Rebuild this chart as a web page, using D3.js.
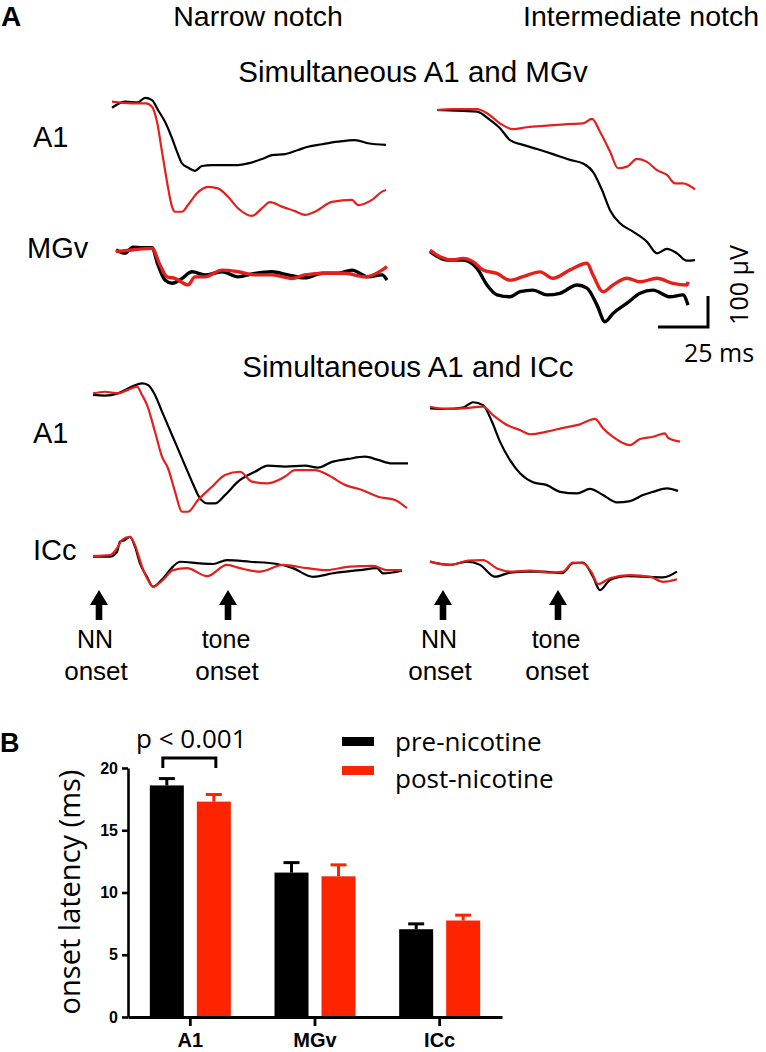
<!DOCTYPE html>
<html><head><meta charset="utf-8">
<script src="https://cdn.jsdelivr.net/npm/d3@7"></script>
<style>
html,body{margin:0;padding:0;background:#fff;}
svg{display:block;}
.hv{font-family:"Liberation Sans",Arial,sans-serif;}
.os{font-family:"Open Sans",sans-serif;}
</style></head>
<body>
<script>
// ---------- Panel A data: [time (ms), amplitude (µV)] ----------
// Narrow notch, simultaneous A1 & MGv
const nA1m_pre = [[0,-18],[3,-6],[6.5,1],[13,-1],[16.5,13],[20,6],[23,-25],[26.5,-62],[30,-113],[32.5,-155],[35,-192],[38,-205],[41.5,-215],[45,-200],[50,-197],[56.5,-197],[63,-197],[68,-192],[75,-178],[80,-166],[86.5,-163],[93,-150],[98,-140],[105,-132],[113,-124],[121.5,-119],[128,-129],[137,-134]];
const nA1m_post = [[0,1],[10,-4],[17,-4],[20,-15],[22.5,-62],[25,-155],[27.5,-249],[30,-327],[31.5,-343],[35,-343],[38,-322],[42.5,-285],[48,-265],[53,-270],[58,-296],[63,-332],[70,-356],[75,-332],[79,-313],[85,-327],[91.5,-341],[96.5,-353],[101.5,-343],[110,-312],[120,-306],[123,-322],[130,-306],[135,-280],[137,-275]];
const nMGv_pre = [[2,-3],[6.5,-13],[10.5,6],[15,4],[20,4],[23,-50],[26.5,-97],[30,-107],[35,-92],[40,-71],[46.5,-81],[55,-71],[63,-87],[71.5,-76],[80,-71],[88,-81],[96.5,-90],[105,-76],[113,-76],[120,-66],[128,-87],[135,-81],[137.5,-97]];
const nMGv_post = [[2,-8],[10,-3],[20,2],[24,-50],[27.5,-87],[31.5,-92],[38,-112],[41.5,-87],[46.5,-87],[55,-66],[63,-71],[71.5,-81],[80,-81],[90,-92],[96.5,-81],[106.5,-76],[116.5,-76],[126.5,-87],[135,-66],[137.5,-55]];
// Intermediate notch, simultaneous A1 & MGv
const iA1m_pre = [[3.5,0],[16.5,-3],[23.5,-5],[30,-31],[35,-57],[40,-94],[46.5,-109],[53.5,-122],[61.5,-138],[70,-156],[76.5,-167],[81.5,-193],[86,-250],[90,-313],[95,-354],[101.5,-380],[108.5,-412],[113.5,-448],[118.5,-434],[123.5,-448],[128.5,-471],[132.5,-469]];
const iA1m_post = [[3.5,0],[11.5,3],[23.5,3],[28.5,-10],[35,-42],[41.5,-60],[48.5,-54],[58.5,-49],[68.5,-44],[76.5,-42],[81,-28],[85,-68],[90,-130],[94,-182],[98.5,-177],[103.5,-153],[108.5,-162],[113.5,-188],[118.5,-203],[122.5,-229],[126.5,-229],[132.5,-248]];
const iMGv_pre = [[0,1],[8.5,-25],[16.5,-25],[23.5,-51],[28.5,-103],[33.5,-134],[40,-140],[45,-124],[51.5,-119],[58.5,-134],[65,-129],[73.5,-103],[78.5,-113],[83.5,-166],[87.5,-218],[91.5,-192],[98.5,-160],[105,-129],[111.5,-119],[120,-140],[126.5,-134],[129,-166]];
const iMGv_post = [[0,6],[5,-15],[11.5,-25],[16.5,-20],[21.5,-30],[26.5,-56],[33.5,-67],[40,-88],[46.5,-77],[55,-62],[61.5,-82],[70,-56],[78.5,-35],[81.5,-72],[86.5,-124],[91.5,-103],[98.5,-82],[105,-93],[113.5,-82],[121.5,-98],[128.5,-103],[129,-93]];
// Narrow notch, simultaneous A1 & ICc
const nA1c_pre = [[0,-3],[6,-5],[12.5,2],[19.5,23],[24.5,33],[27.5,28],[31,-3],[34.5,-55],[39.5,-128],[44.5,-201],[49.5,-274],[53.5,-326],[57.5,-342],[61,-342],[66,-316],[72.5,-274],[81,-243],[87.5,-224],[96,-227],[106,-224],[112.5,-230],[119.5,-212],[127.5,-203],[136,-196],[142.5,-206],[149.5,-217],[157.5,-217]];
const nA1c_post = [[0,2],[6,7],[12.5,2],[17.5,13],[22,23],[24.5,-3],[27,-34],[31,-118],[34.5,-196],[37.5,-232],[41,-305],[44.5,-368],[47.5,-368],[52.5,-331],[59.5,-290],[66,-253],[73.5,-243],[79.5,-274],[87.5,-279],[96,-258],[101,-238],[111,-238],[117.5,-253],[126,-284],[134.5,-300],[142.5,-321],[151,-331],[157,-357]];
const nICc_pre = [[0,-2],[8.5,-2],[12,13],[13.5,45],[16,50],[18.5,60],[21,29],[23.5,-23],[27,-65],[30,-96],[35,-70],[40,-33],[43.5,-18],[53.5,-23],[60,-25],[67,-13],[78.5,-18],[92,-25],[100,-38],[110,-65],[120,-54],[133.5,-44],[142,-38],[145,-54],[154.5,-46]];
const nICc_post = [[0,0],[8.5,3],[12.5,29],[14.5,50],[18.5,60],[21,34],[24.5,-33],[27.5,-75],[30,-96],[35,-75],[40,-44],[47,-38],[57,-63],[67,-28],[73.5,-38],[83.5,-49],[95,-28],[107,-38],[117,-44],[128.5,-33],[140,-31],[147,-44],[154.5,-44]];
// Intermediate notch, simultaneous A1 & ICc
const iA1c_pre = [[0,-1],[8.5,-3],[16.5,1],[21.5,18],[26.5,9],[31,-43],[35,-105],[40,-163],[45,-204],[51.5,-232],[58.5,-241],[65,-262],[73.5,-267],[80,-253],[86.5,-272],[93.5,-295],[100,-291],[106.5,-272],[111.5,-262],[118.5,-251],[124,-259]];
const iA1c_post = [[0,4],[8.5,-3],[16.5,-1],[26.5,4],[31.5,-22],[38.5,-53],[45,-69],[50,-82],[58.5,-74],[66.5,-62],[75,-51],[82.5,-34],[86.5,-63],[91.5,-90],[100,-116],[105,-97],[111.5,-90],[117.5,-79],[119,-93],[125,-105]];
const iICc_pre = [[0,1],[10,-9],[18.5,1],[25,-9],[32.5,-46],[40,-33],[48.5,-30],[56.5,-30],[66,-35],[71.5,-4],[76.5,-2],[81.5,-46],[85,-88],[90,-56],[98.5,-44],[106.5,-46],[116.5,-48],[123.5,-30]];
const iICc_post = [[0,1],[10,-9],[19,4],[26.5,6],[33.5,-20],[41.5,-30],[50,-27],[60,-33],[66.5,-30],[71.5,-2],[76.5,-4],[81,-35],[84,-69],[90,-51],[100,-41],[110,-46],[116.5,-62],[123.5,-54]];
// arrow times (ms) for NN onset and tone onset in the lower panels
const narrowArrowTimes = [3, 67.5];
const interArrowTimes = [6.5, 64];
const arrowLabels = ["NN", "tone"];
const scaleBarMs = 25, scaleBarUv = 100;

// ---------- Panel B data ----------
const categories = ["A1", "MGv", "ICc"];
const groups = ["pre-nicotine", "post-nicotine"];
const preMeans = [18.6, 11.6, 7.05];
const preSEM = [0.55, 0.8, 0.43];
const postMeans = [17.3, 11.3, 7.75];
const postSEM = [0.57, 0.92, 0.43];
const yTicks = [0, 5, 10, 15, 20];

const BLACK = "#000", RED_T = "#e41f1c", RED_B = "#ff2400";

const svg = d3.select("body").append("svg").attr("width", 766).attr("height", 1052);

// ---------- Panel A ----------
const pxPerMs = 2, pxPerUv = 0.32;
function panel(pre, post, x0, y0, sw) {
  const x = d3.scaleLinear().domain([0, 100]).range([x0, x0 + 100 * pxPerMs]);
  const y = d3.scaleLinear().domain([0, 100]).range([y0, y0 - 100 * pxPerUv]);
  const line = d3.line().x(d => x(d[0])).y(d => y(d[1])).curve(d3.curveMonotoneX);
  const g = svg.append("g");
  g.append("path").datum(pre).attr("d", line).attr("fill", "none").attr("stroke", BLACK).attr("stroke-width", sw).attr("stroke-linejoin", "round");
  g.append("path").datum(post).attr("d", line).attr("fill", "none").attr("stroke", RED_T).attr("stroke-width", sw).attr("stroke-linejoin", "round");
  return {x, y};
}
panel(nA1m_pre, nA1m_post, 112, 102, 2.2);
panel(nMGv_pre, nMGv_post, 112, 249, 3.4);
panel(iA1m_pre, iA1m_post, 430, 110, 2.2);
panel(iMGv_pre, iMGv_post, 430, 252, 3.4);
const pn = panel(nA1c_pre, nA1c_post, 93, 394, 2.2);
panel(nICc_pre, nICc_post, 93, 556, 2.2);
const pi = panel(iA1c_pre, iA1c_post, 430, 408, 2.2);
panel(iICc_pre, iICc_post, 430, 562, 2.2);

// titles & labels
const hv = (txt, x, y, size, opts = {}) => svg.append("text").attr("class", "hv").attr("x", x).attr("y", y)
  .attr("font-size", size).attr("text-anchor", opts.anchor || "start").attr("font-weight", opts.bold ? "bold" : "normal").text(txt);
hv("A", 1, 26, 28, {bold: true});
hv("Narrow notch", 258, 26, 28.5, {anchor: "middle"});
hv("Intermediate notch", 641, 26, 28.5, {anchor: "middle"});
hv("Simultaneous A1 and MGv", 413, 82, 29.5, {anchor: "middle"});
hv("Simultaneous A1 and ICc", 408, 377, 29.5, {anchor: "middle"});
hv("A1", 33, 147, 29);
hv("MGv", 27, 258, 29);
hv("A1", 33, 443, 29);
hv("ICc", 33, 560, 29);

// arrows
function arrow(cx) {
  const yT = 590, yB = 620, hw = 9, sw = 3.3, hh = 15;
  svg.append("path").attr("d", `M${cx},${yT}L${cx - hw},${yT + hh}L${cx - sw},${yT + hh}L${cx - sw},${yB}L${cx + sw},${yB}L${cx + sw},${yT + hh}L${cx + hw},${yT + hh}Z`).attr("fill", "#000");
}
[[pn.x, narrowArrowTimes], [pi.x, interArrowTimes]].forEach(([xs, times]) => {
  times.forEach((t, i) => {
    const cx = xs(t);
    arrow(cx);
    hv(arrowLabels[i], cx - 4 + (i ? 2 : 0), 648, 25, {anchor: "middle"});
    hv("onset", cx - 3 + (i ? 2 : 0), 680, 26, {anchor: "middle"});
  });
});

// scale bar
{
  const xr = 708, yb = 327;
  const xs = d3.scaleLinear().domain([0, scaleBarMs]).range([xr - scaleBarMs * pxPerMs, xr]);
  const ys = d3.scaleLinear().domain([0, scaleBarUv]).range([yb, yb - scaleBarUv * 0.31]);
  svg.append("path").attr("d", `M${xs(0)},${ys(0)}L${xs(scaleBarMs)},${ys(0)}L${xs(scaleBarMs)},${ys(scaleBarUv)}`)
    .attr("fill", "none").attr("stroke", "#000").attr("stroke-width", 3);
  svg.append("text").attr("class", "os").attr("font-size", 25).attr("text-anchor", "middle")
    .attr("transform", `translate(748,285) rotate(-90)`).text(scaleBarUv + " µV");
  svg.append("text").attr("class", "os").attr("font-size", 25).attr("text-anchor", "middle")
    .attr("x", 719).attr("y", 362).text(scaleBarMs + " ms");
}

// ---------- Panel B ----------
hv("B", 0, 752, 27, {bold: true});
const yB = d3.scaleLinear().domain([0, 20]).range([1017, 768]);
const xB = d3.scaleBand().domain(categories).range([128, 502]).padding(0);
const xSub = d3.scaleBand().domain(groups).range([-40.5, 40.5]).paddingInner(0.2766);
const rows = categories.map((c, i) => [
  {c, g: groups[0], m: preMeans[i], e: preSEM[i], col: BLACK},
  {c, g: groups[1], m: postMeans[i], e: postSEM[i], col: RED_B}
]).flat();
const bx = d => xB(d.c) + xB.bandwidth() / 2 + xSub(d.g);
// error bars
rows.forEach(d => {
  const cx = bx(d) + xSub.bandwidth() / 2;
  svg.append("line").attr("x1", cx).attr("x2", cx).attr("y1", yB(d.m)).attr("y2", yB(d.m + d.e)).attr("stroke", d.col).attr("stroke-width", 3);
  svg.append("line").attr("x1", cx - 8).attr("x2", cx + 8).attr("y1", yB(d.m + d.e)).attr("y2", yB(d.m + d.e)).attr("stroke", d.col).attr("stroke-width", 3);
});
svg.selectAll("rect.bar").data(rows).enter().append("rect").attr("class", "bar")
  .attr("x", bx).attr("width", xSub.bandwidth()).attr("y", d => yB(d.m)).attr("height", d => yB(0) - yB(d.m)).attr("fill", d => d.col);

// axes
const yAx = svg.append("g").attr("transform", "translate(128,0)").call(d3.axisLeft(yB).tickValues(yTicks).tickSize(6).tickPadding(4).tickSizeOuter(0));
yAx.select(".domain").attr("stroke-width", 2.6);
yAx.selectAll(".tick line").attr("stroke-width", 2.6);
yAx.selectAll("text").attr("font-family", "Liberation Sans, Arial").attr("font-weight", "bold").attr("font-size", 16);
const xAx = svg.append("g").attr("transform", "translate(0,1017)").call(d3.axisBottom(xB).tickSize(9).tickPadding(7).tickSizeOuter(0));
xAx.select(".domain").attr("stroke-width", 2.8);
xAx.selectAll(".tick line").attr("stroke-width", 2.8);
xAx.selectAll("text").attr("font-family", "Liberation Sans, Arial").attr("font-weight", "bold").attr("font-size", 20);

// y label
svg.append("text").attr("class", "os").attr("font-size", 29).attr("text-anchor", "middle")
  .attr("transform", "translate(80,892) rotate(-90)").text("onset latency (ms)");

// significance bracket
{
  const xa = bx(rows[0]) + xSub.bandwidth() / 2, xb = bx(rows[1]) + xSub.bandwidth() / 2;
  svg.append("path").attr("d", `M${xa - 4},768L${xa - 4},758L${xb + 2},758L${xb + 2},768`).attr("fill", "none").attr("stroke", "#000").attr("stroke-width", 3);
  svg.append("text").attr("class", "os").attr("font-size", 26).attr("x", 136).attr("y", 748).text("p < 0.001");
}

// legend
groups.forEach((g, i) => {
  svg.append("rect").attr("x", 342).attr("y", 737 + i * 29).attr("width", 32).attr("height", 9).attr("fill", i ? RED_B : BLACK);
  svg.append("text").attr("class", "os").attr("font-size", 26).attr("x", 395).attr("y", 751 + i * 37).text(g);
});
</script>
</body></html>
